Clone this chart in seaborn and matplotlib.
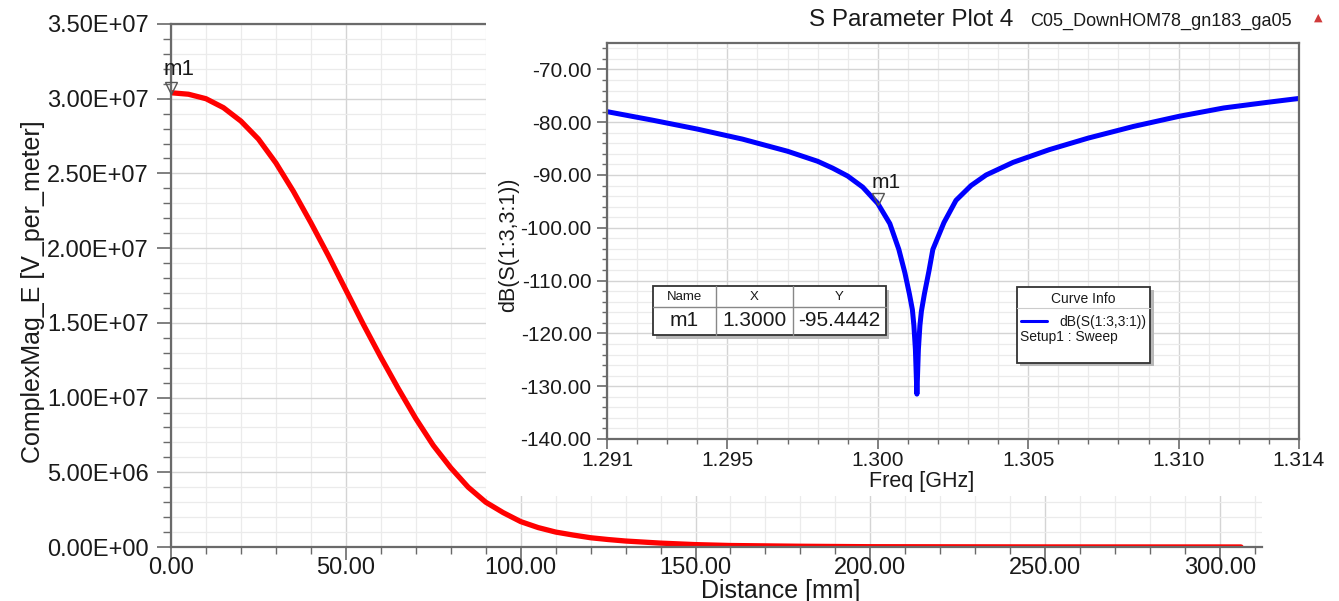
import matplotlib
matplotlib.use("Agg")
import matplotlib.pyplot as plt
import matplotlib.transforms as mtransforms
from matplotlib.patches import Rectangle
from matplotlib.lines import Line2D
from matplotlib.ticker import MultipleLocator, FixedLocator, FormatStrFormatter, FuncFormatter
import seaborn as sns
import pandas as pd

# ---------------- data ----------------
distance_mm = [0, 5, 10, 15, 20, 25, 30, 35, 40, 45, 50, 55, 60, 65, 70, 75, 80, 85,
               90, 95, 100, 105, 110, 115, 120, 125, 130, 140, 150, 160, 180, 200, 250, 306]
e_field = [3.04e7, 3.03e7, 3.00e7, 2.94e7, 2.85e7, 2.73e7, 2.57e7, 2.38e7, 2.17e7, 1.95e7,
           1.72e7, 1.49e7, 1.27e7, 1.06e7, 0.86e7, 0.68e7, 0.53e7, 0.40e7, 0.30e7, 0.23e7,
           0.17e7, 0.13e7, 0.10e7, 0.08e7, 0.062e7, 0.05e7, 0.04e7, 0.026e7, 0.016e7, 0.010e7,
           0.005e7, 0.002e7, 0.0005e7, 0.0002e7]

freq_ghz = [1.2910, 1.2925, 1.2940, 1.2955, 1.2970, 1.2980, 1.2985, 1.2990, 1.2995, 1.3000,
            1.3004, 1.3007, 1.3009, 1.30105, 1.30115, 1.3012, 1.30125, 1.3013, 1.30135,
            1.3014, 1.30145, 1.30155, 1.3017, 1.30183, 1.3022, 1.3026, 1.3031, 1.3036,
            1.3045, 1.3057, 1.3070, 1.3085, 1.3100, 1.3115, 1.3130, 1.3140]
s_db = [-78.0, -79.6, -81.3, -83.2, -85.5, -87.4, -88.7, -90.2, -92.3, -95.4,
        -99.2, -104.1, -108.5, -112.5, -115.5, -118.5, -123.0, -131.5, -123.0,
        -118.5, -115.8, -112.5, -108.2, -104.1, -99.0, -94.8, -92.0, -90.0,
        -87.6, -85.2, -83.0, -80.8, -78.9, -77.3, -76.2, -75.5]

main_xticks = [0, 50, 100, 150, 200, 250, 300]
inset_xticks = [1.291, 1.295, 1.300, 1.305, 1.310, 1.314]

marker_main = (0.0, 3.04e7)
marker_inset = (1.3000, -95.4442)

title_text = "S Parameter Plot 4"
design_text = "C05_DownHOM78_gn183_ga05"
table_header = ["Name", "X", "Y"]
table_row = ["m1", "1.3000", "-95.4442"]
legend_lines = ["Curve Info", "dB(S(1:3,3:1))", "Setup1 : Sweep"]

# ---------------- style ----------------
sns.set_theme(style="white")
plt.rcParams["font.family"] = ["Liberation Sans", "DejaVu Sans"]
plt.rcParams["axes.unicode_minus"] = False

W, H = 1339, 601
fig = plt.figure(figsize=(W / 100, H / 100), dpi=100)
fig.patch.set_facecolor("white")

SPINE = "#6a6a6a"
TXT = "#1a1a1a"


def fr(x0, y0, x1, y1):
    return [x0 / W, 1 - y1 / H, (x1 - x0) / W, (y1 - y0) / H]


# ---------------- main axes ----------------
ax = fig.add_axes(fr(171, 24, 1262, 547))
ax.set_zorder(0)
df_main = pd.DataFrame({"Distance": distance_mm, "E": e_field})
sns.lineplot(data=df_main, x="Distance", y="E", ax=ax, color="#ff0000", linewidth=3.8,
             estimator=None, sort=False)
ax.set_xlim(0, 312)
ax.set_ylim(0, 3.5e7)
ax.xaxis.set_major_locator(FixedLocator(main_xticks))
ax.xaxis.set_minor_locator(MultipleLocator(10))
ax.yaxis.set_major_locator(MultipleLocator(0.5e7))
ax.yaxis.set_minor_locator(MultipleLocator(0.1e7))
ax.xaxis.set_major_formatter(FormatStrFormatter("%.2f"))
ax.yaxis.set_major_formatter(FuncFormatter(lambda v, p: f"{v:.2E}"))
ax.grid(which="major", color="#d4d4d4", linewidth=1.0)
ax.grid(which="minor", color="#ebebeb", linewidth=0.9)
ax.tick_params(axis="both", which="both", direction="out", colors=SPINE, labelcolor=TXT)
ax.tick_params(axis="y", which="major", length=10, width=1.2, pad=6, labelsize=17)
ax.tick_params(axis="y", which="minor", length=6, width=1.0)
ax.tick_params(axis="x", which="major", length=9, width=1.2, pad=-2, labelsize=17)
ax.tick_params(axis="x", which="minor", length=5, width=1.0)
ax.tick_params(left=True, bottom=True, which="both")
for s in ["left", "bottom", "top"]:
    ax.spines[s].set_color(SPINE)
    ax.spines[s].set_linewidth(1.6)
ax.spines["right"].set_visible(False)
ax.set_xlabel("Distance [mm]", fontsize=18, color=TXT)
ax.set_ylabel("ComplexMag_E [V_per_meter]", fontsize=18, color=TXT)
ax.xaxis.set_label_coords(781 / W, 1 - 579 / H, transform=fig.transFigure)
ax.yaxis.set_label_coords(45 / W, 1 - 292 / H, transform=fig.transFigure)

tr = mtransforms.offset_copy(ax.transData, fig=fig, x=0, y=3.5, units="points")
ax.plot([marker_main[0]], [marker_main[1]], marker="v", ms=8, mfc="none", mec="#555555",
        mew=1.0, transform=tr, clip_on=False, zorder=5)
ax.annotate("m1", xy=marker_main, xytext=(6, 17), textcoords="offset points",
            ha="center", va="center", fontsize=16, color=TXT, annotation_clip=False)

# white panel behind inset
fig.add_artist(Rectangle((486 / W, 1 - 496 / H), (W - 486) / W, 496 / H,
                         transform=fig.transFigure, facecolor="white", edgecolor="none",
                         zorder=1))

# ---------------- inset axes ----------------
ax2 = fig.add_axes(fr(607, 43, 1299, 439))
ax2.set_zorder(2)
ax2.set_facecolor("white")
df_s = pd.DataFrame({"Freq": freq_ghz, "dB": s_db})
sns.lineplot(data=df_s, x="Freq", y="dB", ax=ax2, color="#0000ff", linewidth=3.6,
             estimator=None, sort=False)
ax2.set_xlim(1.291, 1.314)
ax2.set_ylim(-140, -65)
ax2.xaxis.set_major_locator(FixedLocator(inset_xticks))
ax2.xaxis.set_minor_locator(MultipleLocator(0.001))
ax2.yaxis.set_major_locator(MultipleLocator(10))
ax2.yaxis.set_minor_locator(MultipleLocator(2))
ax2.xaxis.set_major_formatter(FormatStrFormatter("%.3f"))
ax2.yaxis.set_major_formatter(FormatStrFormatter("%.2f"))
ax2.grid(which="major", color="#d4d4d4", linewidth=1.0)
ax2.grid(which="minor", color="#ebebeb", linewidth=0.9)
ax2.tick_params(axis="both", which="both", direction="out", colors=SPINE, labelcolor=TXT)
ax2.tick_params(axis="y", which="major", length=7, width=1.2, pad=4, labelsize=15)
ax2.tick_params(axis="y", which="minor", length=3.5, width=1.0)
ax2.tick_params(axis="x", which="major", length=7, width=1.2, pad=2, labelsize=15)
ax2.tick_params(axis="x", which="minor", length=3.5, width=1.0)
ax2.tick_params(left=True, bottom=True, which="both")
for s in ax2.spines.values():
    s.set_color(SPINE)
    s.set_linewidth(1.6)
ax2.set_xlabel("Freq [GHz]", fontsize=15.5, color=TXT)
ax2.set_ylabel("dB(S(1:3,3:1))", fontsize=15.5, color=TXT)
ax2.xaxis.set_label_coords(922 / W, 1 - 471 / H, transform=fig.transFigure)
ax2.yaxis.set_label_coords(519 / W, 1 - 245 / H, transform=fig.transFigure)

tr2 = mtransforms.offset_copy(ax2.transData, fig=fig, x=0, y=3.5, units="points")
ax2.plot([marker_inset[0]], [marker_inset[1]], marker="v", ms=8, mfc="none", mec="#555555",
         mew=1.0, transform=tr2, zorder=5)
ax2.annotate("m1", xy=marker_inset, xytext=(6, 15), textcoords="offset points",
             ha="center", va="center", fontsize=15, color=TXT)

# ---------------- title ----------------
fig.text(911 / W, 1 - 20 / H, title_text, ha="center", va="center", fontsize=17.5, color=TXT,
         zorder=6)
fig.text(1030 / W, 1 - 21 / H, design_text, ha="left", va="center", fontsize=13, color=TXT,
         zorder=6)
fig.text(1318 / W, 1 - 18 / H, "\u25B2", ha="center", va="center", fontsize=8,
         color="#d03a3a", family=["DejaVu Sans"], zorder=6)


# ---------------- marker table ----------------
def rect(x0, y0, x1, y1, **kw):
    fig.add_artist(Rectangle((x0 / W, 1 - y1 / H), (x1 - x0) / W, (y1 - y0) / H,
                             transform=fig.transFigure, **kw))


def line(x0, y0, x1, y1, **kw):
    fig.add_artist(Line2D([x0 / W, x1 / W], [1 - y0 / H, 1 - y1 / H],
                          transform=fig.transFigure, **kw))


def txt(x, y, s, **kw):
    fig.text(x / W, 1 - y / H, s, zorder=8, color=TXT, **kw)


rect(656, 290, 889, 339, facecolor="#b8b8b8", edgecolor="none", zorder=6)
rect(653, 286, 886, 335, facecolor="white", edgecolor="#333333", linewidth=1.3, zorder=7)
line(653, 307, 886, 307, color="#888888", linewidth=1.0, zorder=8)
line(716, 286, 716, 335, color="#888888", linewidth=1.0, zorder=8)
line(793, 286, 793, 335, color="#888888", linewidth=1.0, zorder=8)
cols = [684.5, 754.5, 839.5]
for cx, h in zip(cols, table_header):
    txt(cx, 297, h, ha="center", va="center", fontsize=9.5)
for cx, v in zip(cols, table_row):
    txt(cx, 321, v, ha="center", va="center", fontsize=15)

# ---------------- curve info box ----------------
rect(1020, 290, 1154, 366, facecolor="#b8b8b8", edgecolor="none", zorder=6)
rect(1017, 287, 1150, 363, facecolor="white", edgecolor="#333333", linewidth=1.3, zorder=7)
line(1017, 308, 1150, 308, color="#cccccc", linewidth=0.8, zorder=8)
txt(1083, 299, legend_lines[0], ha="center", va="center", fontsize=10)
line(1021, 321, 1047, 321, color="#0000ff", linewidth=2.2, zorder=8)
txt(1146, 322, legend_lines[1], ha="right", va="center", fontsize=10)
txt(1020, 337, legend_lines[2], ha="left", va="center", fontsize=10)

fig.savefig("out.png", dpi=100, facecolor="white")
